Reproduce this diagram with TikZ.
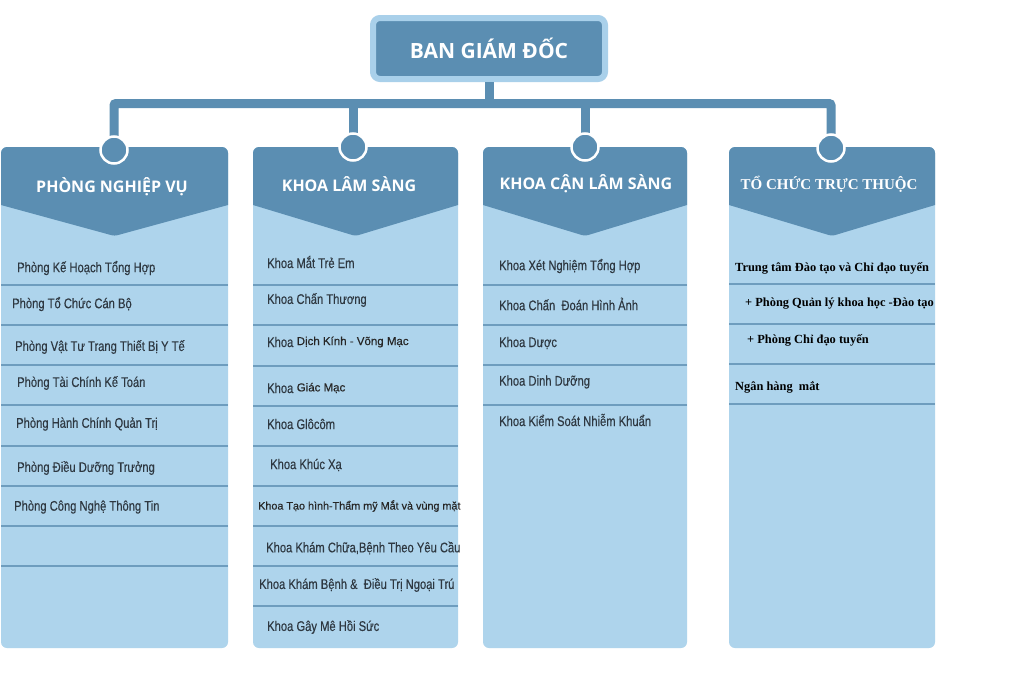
\documentclass[tikz,border=0pt]{standalone}
\usepackage{fontspec}
\setmainfont{Liberation Sans}
\newfontfamily\itemfont{Liberation Sans}[FakeStretch=0.8, FakeBold=0.35]
\newfontfamily\arfont{Liberation Sans}[FakeBold=0.4]
\newfontfamily\headfont{Open Sans}
\newfontfamily\serifb{Liberation Serif}
\definecolor{darkb}{HTML}{5B8EB2}
\definecolor{lightb}{HTML}{AED4EC}
\definecolor{borderb}{HTML}{A9D0EA}
\definecolor{sepb}{HTML}{6E9DBE}
\definecolor{itemtxt}{HTML}{2E3841}
\begin{document}
\begin{tikzpicture}[x=1pt,y=-1pt,
  item/.style={anchor=west, inner sep=0pt, text=itemtxt, font=\itemfont\fontsize{14}{16}\selectfont},
  itemar/.style={anchor=west, inner sep=0pt, text=black!85, font=\arfont\fontsize{11.5}{14}\selectfont},
  itemser/.style={anchor=west, inner sep=0pt, text=black, font=\serifb\bfseries\fontsize{12.4}{14}\selectfont},
  head/.style={text=white, inner sep=0pt, font=\headfont\bfseries\fontsize{16}{19}\selectfont},
  conn/.style={draw=darkb, line width=9pt, rounded corners=2pt},
  dot/.style={circle, fill=darkb, draw=white, line width=2.5pt, minimum size=27pt, inner sep=0pt},
  sep/.style={draw=sepb, line width=1.3pt}]
\useasboundingbox (0,0) rectangle (1027,672);
\fill[white] (0,0) rectangle (1027,672);

% column bodies
\foreach \a/\b in {1/228, 253/458, 483/687, 729/935}{
  \fill[lightb, rounded corners=6pt] (\a,147) rectangle (\b,648);
}
% headers with chevron
\foreach \a/\b in {1/228, 253/458, 483/687, 729/935}{
  \pgfmathsetmacro{\c}{(\a+\b)/2}
  \fill[darkb] (\a,205) [rounded corners=6pt] -- (\a,147) -- (\b,147) [sharp corners] -- (\b,205) [rounded corners=3pt] -- (\c,236) [sharp corners] -- cycle;
}
% separators
\foreach \y in {285,325,365,405,446,486,526,566}{ \draw[sep] (1,\y) -- (228,\y); }
\foreach \y in {285,325,366,406,446,486,526,566,606}{ \draw[sep] (253,\y) -- (458,\y); }
\foreach \y in {285,325,365,405}{ \draw[sep] (483,\y) -- (687,\y); }
\foreach \y in {284,324,364,404}{ \draw[sep] (729,\y) -- (935,\y); }

% top box
\node[draw=borderb, line width=6pt, fill=darkb, rounded corners=7pt, minimum width=232pt, minimum height=61pt,
      text=white, font=\headfont\bfseries\fontsize{21}{24}\selectfont] (top) at (489,48.5) {BAN GIÁM ĐỐC};

% junction coordinates and circles
\coordinate (j1) at (114,103.5);
\coordinate (j4) at (831,103.5);
\coordinate (c1) at (114,150);
\coordinate (c2) at (353,147);
\coordinate (c3) at (585,147);
\coordinate (c4) at (831,148);
\draw[conn] (c1) -- (j1) -- (j4) -- (c4);
\draw[conn] (top.south) -- (top.south |- j1);
\draw[conn] (c2) -- (c2 |- j1);
\draw[conn] (c3) -- (c3 |- j1);
\node[dot] (d1c) at (c1) {};
\node[dot] (d2c) at (c2) {};
\node[dot] (d3c) at (c3) {};
\node[dot] (d4c) at (c4) {};

% header texts
\node[head] (h1) at (112,187) {PHÒNG NGHIỆP VỤ};
\node[head] (h2) at (349,184) {KHOA LÂM SÀNG};
\node[head] (h3) at (586,184) {KHOA CẬN LÂM SÀNG};
\node[text=white, inner sep=0pt, font=\serifb\bfseries\fontsize{15}{18}\selectfont] (h4) at (829,184) {TỔ CHỨC TRỰC THUỘC};

% column 1 items
\node[item] (a1) at (17,268) {Phòng Kế Hoạch Tổng Hợp};
\node[item] (a2) at (12,304) {Phòng Tổ Chức Cán Bộ};
\node[item] (a3) at (15,347) {Phòng Vật Tư Trang Thiết Bị Y Tế};
\node[item] (a4) at (17,383) {Phòng Tài Chính Kế Toán};
\node[item] (a5) at (16,424) {Phòng Hành Chính Quản Trị};
\node[item] (a6) at (17,468) {Phòng Điều Dưỡng Trưởng};
\node[item] (a7) at (14,507) {Phòng Công Nghệ Thông Tin};

% column 2 items
\node[item] (b1) at (267,262) {Khoa Mắt Trẻ Em};
\node[item] (b2) at (267,300) {Khoa Chấn Thương};
\node[item] (b3) at (267,342) {Khoa};
\node[itemar] (b3x) at ([xshift=3pt]b3.east) {Dịch Kính - Võng Mạc};
\node[item] (b4) at (267,388) {Khoa};
\node[itemar] (b4x) at ([xshift=3pt]b4.east) {Giác Mạc};
\node[item] (b5) at (267,424) {Khoa Glôcôm};
\node[item] (b6) at (270,465) {Khoa Khúc Xạ};
\node[itemar, font=\arfont\fontsize{10.8}{13}\selectfont] (b7) at (258,506) {Khoa Tạo hình-Thẩm mỹ Mắt và vùng mặt};
\node[item] (b8) at (266,548) {Khoa Khám Chữa,Bệnh Theo Yêu Cầu};
\node[item] (b9) at (259,585) {Khoa Khám Bệnh \&\ \ Điều Trị Ngoại Trú};
\node[item] (b10) at (267,627) {Khoa Gây Mê Hồi Sức};

% column 3 items
\node[item] (d1) at (499,266) {Khoa Xét Nghiệm Tổng Hợp};
\node[item] (d2) at (499,304) {Khoa Chấn\ \ Đoán Hình Ảnh};
\node[item] (d3) at (499,343) {Khoa Dược};
\node[item] (d4) at (499,382) {Khoa Dinh Dưỡng};
\node[item] (d5) at (499,420) {Khoa Kiểm Soát Nhiễm Khuẩn};

% column 4 items
\node[itemser] (e1) at (735,268) {Trung tâm Đào tạo và Chỉ đạo tuyến};
\node[itemser] (e2) at (745,304) {+ Phòng Quản lý khoa học -Đào tạo};
\node[itemser] (e3) at (747,340) {+ Phòng Chỉ đạo tuyến};
\node[itemser] (e4) at (735,387) {Ngân hàng\ \ mắt};
\end{tikzpicture}
\end{document}
